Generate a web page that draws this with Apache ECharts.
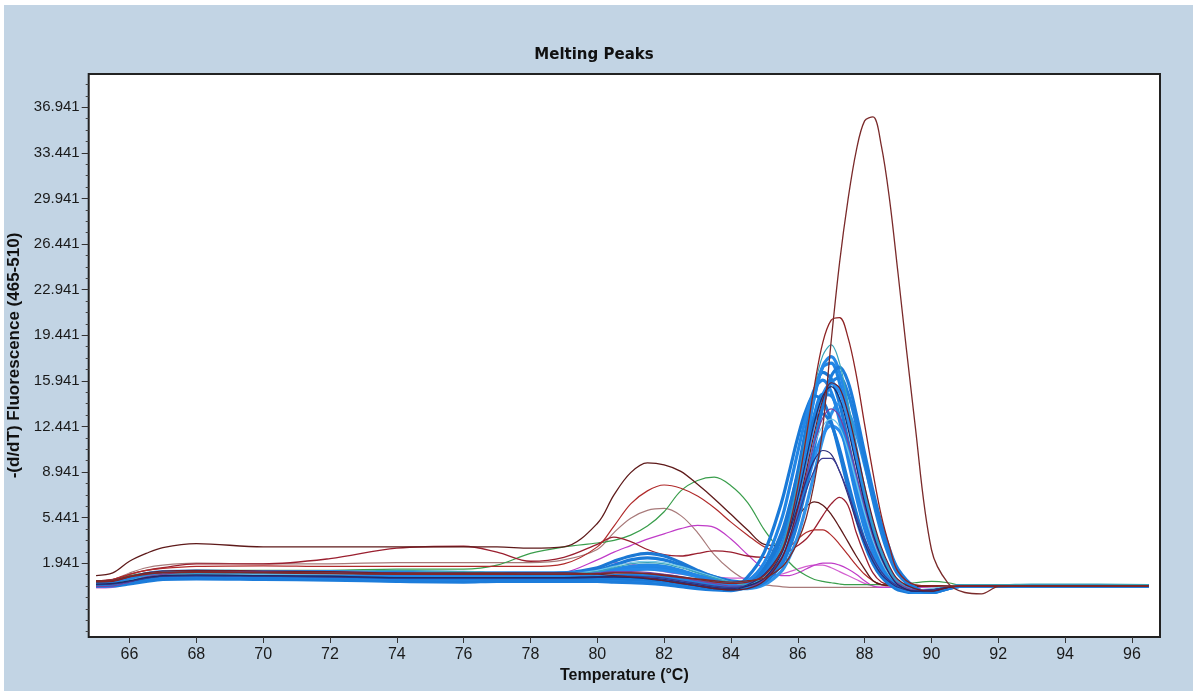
<!DOCTYPE html>
<html>
<head>
<meta charset="utf-8">
<title>Melting Peaks</title>
<script src="https://cdn.jsdelivr.net/npm/echarts@6/dist/echarts.min.js"></script>
<style>
  html, body { margin: 0; padding: 0; background: #ffffff; }
  #chart { position: absolute; left: 4px; top: 5px; width: 1189px; height: 686px; }
</style>
</head>
<body>
<div id="chart"></div>
<script>
// shared temperature grid (°C) for every curve
const temps = [
  65, 65.5, 66, 66.5, 67, 68, 70, 72, 74, 76, 77, 78, 79, 80, 80.5, 81, 81.5, 82, 82.5, 83, 83.5, 84,
  84.5, 85, 85.5, 85.75, 86, 86.25, 86.5, 86.75, 87, 87.25, 87.5, 87.75, 88, 88.25, 88.5, 88.75, 89, 89.5, 90, 90.5,
  91, 91.5, 92, 93, 94, 96.5
];

const xTicks = [66, 68, 70, 72, 74, 76, 78, 80, 82, 84, 86, 88, 90, 92, 94, 96];
const yTicks = [1.941, 5.441, 8.941, 12.441, 15.941, 19.441, 22.941, 26.441, 29.941, 33.441, 36.941];

// blue bundle (main product peak near 86.9 °C)
const blue1 = [0.3,0.35,0.6,0.9,1.0,1.05,1.0,0.95,0.85,0.85,0.8,0.8,0.8,0.85,0.9,0.9,0.9,0.85,0.7,0.5,0.3,0.15,
  0.3,1.0,3.1,5.2,8.0,11.4,14.8,17.0,17.3,15.8,13.0,9.9,6.9,4.4,2.5,1.2,0.4,-0.2,-0.2,0.1,
  0.2,0.2,0.2,0.2,0.2,0.2];
const blue2 = [0.4,0.45,0.7,1.0,1.15,1.2,1.15,1.1,1.0,1.0,1.0,1.0,1.1,1.4,1.8,2.2,2.35,2.2,1.8,1.3,0.9,0.5,
  0.4,1.3,3.8,6.1,9.0,12.3,15.2,16.6,16.1,14.2,11.4,8.4,5.6,3.4,1.8,0.8,0.2,-0.3,-0.2,0.1,
  0.2,0.2,0.2,0.2,0.2,0.2];
const blue3 = [0.2,0.25,0.45,0.7,0.85,0.9,0.85,0.8,0.6,0.65,0.7,0.7,0.7,0.7,0.7,0.65,0.6,0.5,0.35,0.2,0.05,-0.05,
  0.2,0.8,2.6,4.4,6.9,9.8,12.8,14.9,15.8,15.1,12.9,10.1,7.3,4.8,2.8,1.4,0.5,-0.2,-0.3,0.1,
  0.2,0.2,0.2,0.2,0.2,0.2];
const blue4 = [0.35,0.4,0.65,0.95,1.1,1.15,1.1,1.05,0.95,0.9,0.9,0.95,1.0,1.2,1.4,1.6,1.65,1.55,1.3,1.0,0.7,0.4,
  0.3,1.1,3.2,5.2,7.8,10.8,13.4,14.9,14.8,13.2,10.6,7.9,5.3,3.3,1.8,0.8,0.2,-0.3,-0.2,0.1,
  0.2,0.2,0.2,0.2,0.2,0.2];
const blue5 = [0.25,0.3,0.55,0.85,0.95,1.0,0.95,0.9,0.75,0.8,0.75,0.75,0.75,0.8,0.85,0.85,0.8,0.7,0.5,0.3,0.1,0.0,
  0.0,0.3,1.3,2.4,4.0,6.3,8.9,11.5,13.4,14.2,13.6,11.9,9.5,7.0,4.7,2.8,1.4,0.1,-0.3,0.0,
  0.2,0.2,0.2,0.2,0.2,0.2];
const blue6 = [0.4,0.45,0.75,1.05,1.2,1.25,1.2,1.15,1.05,1.05,1.05,1.1,1.2,1.6,2.1,2.5,2.7,2.5,2.0,1.4,0.9,0.6,
  0.5,1.6,4.2,6.3,8.8,11.3,13.0,13.4,12.6,10.7,8.2,5.8,3.7,2.1,1.0,0.4,0.0,-0.3,-0.2,0.1,
  0.2,0.2,0.2,0.2,0.2,0.2];
const blue7 = [0.2,0.25,0.5,0.75,0.9,0.95,0.9,0.85,0.7,0.7,0.7,0.75,0.75,0.8,0.8,0.8,0.75,0.65,0.5,0.35,0.2,0.1,
  0.2,0.7,2.1,3.5,5.5,7.8,10.1,11.8,12.5,12.1,10.5,8.3,6.0,3.9,2.3,1.2,0.4,-0.2,-0.2,0.1,
  0.2,0.2,0.2,0.2,0.2,0.2];
const blue8 = [0.3,0.35,0.6,0.9,1.05,1.1,1.05,1.0,0.9,0.9,0.85,0.85,0.85,0.9,1.0,1.05,1.05,1.0,0.85,0.6,0.35,0.15,
  0.1,0.5,1.8,3.2,5.3,8.1,11.2,14.0,15.8,16.2,15.0,12.6,9.7,6.8,4.3,2.4,1.1,0.0,-0.3,0.0,
  0.2,0.2,0.2,0.2,0.2,0.2];
const blue9 = [0.35,0.4,0.65,0.95,1.1,1.1,1.05,1.0,0.9,0.9,0.9,0.9,0.95,1.1,1.3,1.45,1.5,1.4,1.2,0.9,0.6,0.35,
  0.3,0.9,2.9,5.0,7.9,11.3,14.7,17.1,17.8,16.6,13.9,10.7,7.5,4.8,2.7,1.3,0.4,-0.3,-0.2,0.1,
  0.2,0.2,0.2,0.2,0.2,0.2];
const blue10 = [0.25,0.3,0.5,0.8,0.95,1.0,0.95,0.9,0.8,0.75,0.75,0.75,0.75,0.75,0.75,0.7,0.65,0.55,0.4,0.25,0.1,0.0,
  0.9,2.8,6.5,9.0,11.6,13.7,14.8,14.4,12.8,10.4,7.8,5.4,3.4,1.9,0.9,0.3,-0.1,-0.3,-0.2,0.1,
  0.2,0.2,0.2,0.2,0.2,0.2];
const blue11 = [0.5,0.55,0.85,1.15,1.3,1.35,1.3,1.3,1.25,1.25,1.2,1.2,1.2,1.3,1.5,1.7,1.8,1.7,1.4,1.0,0.6,0.3,
  0.6,2.0,5.2,7.7,10.5,13.2,15.3,16.0,15.1,12.9,10.0,7.1,4.6,2.7,1.4,0.6,0.1,-0.3,-0.2,0.1,
  0.2,0.2,0.2,0.2,0.2,0.2];
const blue12 = [0.2,0.2,0.35,0.55,0.7,0.75,0.7,0.65,0.55,0.5,0.55,0.55,0.55,0.55,0.5,0.45,0.4,0.3,0.15,0.0,-0.1,-0.15,
  0.1,0.5,1.8,3.1,5.1,7.8,10.9,14.0,16.3,17.0,15.9,13.4,10.4,7.5,5.0,3.0,1.5,0.1,-0.3,0.0,
  0.2,0.2,0.2,0.2,0.2,0.2];
const teal1 = [0.3,0.35,0.6,0.9,1.1,1.2,1.2,1.3,1.4,1.3,1.2,1.1,1.1,1.3,1.6,1.9,2.0,1.9,1.6,1.2,0.8,0.5,
  0.3,1.0,3.0,5.2,8.2,11.8,15.4,17.9,18.7,17.3,14.3,10.9,7.6,4.9,2.8,1.4,0.5,-0.1,-0.1,0.2,
  0.3,0.3,0.3,0.35,0.35,0.3];
const cyan1 = [0.3,0.35,0.6,0.9,1.0,1.1,1.1,1.1,1.2,1.3,1.2,1.1,1.1,1.4,1.7,2.0,2.1,2.0,1.7,1.3,0.9,0.5,
  0.3,0.9,2.5,4.1,6.3,8.9,11.1,12.5,13.0,12.4,10.6,8.2,5.8,3.7,2.1,1.0,0.4,-0.1,0.0,0.2,
  0.2,0.2,0.2,0.2,0.2,0.2];
const purple1 = [0.15,0.2,0.5,0.9,1.1,1.3,1.3,1.3,1.2,1.15,1.1,1.1,1.1,1.2,1.3,1.3,1.25,1.1,0.9,0.6,0.4,0.2,
  0.2,0.7,2.3,3.9,6.0,8.6,11.2,13.1,13.8,13.2,11.3,8.8,6.3,4.0,2.3,1.1,0.4,-0.1,-0.1,0.1,
  0.2,0.2,0.2,0.2,0.2,0.2];
const navy1 = [0.3,0.35,0.55,0.8,0.95,1.0,0.95,0.9,0.8,0.8,0.8,0.8,0.8,0.85,0.9,0.85,0.8,0.7,0.5,0.3,0.1,0.0,
  0.3,1.1,2.8,4.4,6.3,8.3,9.9,10.6,10.3,9.0,7.2,5.2,3.5,2.1,1.1,0.5,0.1,-0.2,-0.1,0.1,
  0.2,0.2,0.2,0.2,0.2,0.2];
const navy2 = [0.3,0.35,0.55,0.8,0.95,1.0,0.95,0.9,0.85,0.85,0.85,0.85,0.85,0.9,0.95,0.95,0.9,0.8,0.6,0.4,0.2,0.1,
  0.2,0.8,2.3,3.7,5.5,7.5,9.1,10.0,10.0,9.0,7.4,5.5,3.8,2.4,1.3,0.6,0.2,-0.2,-0.1,0.1,
  0.2,0.2,0.2,0.2,0.2,0.2];
const navy3 = [0.35,0.4,0.6,0.85,1.0,1.05,1.0,0.95,0.85,0.85,0.85,0.85,0.85,0.9,0.9,0.85,0.75,0.6,0.4,0.2,0.0,-0.1,
  0.2,0.8,2.6,4.5,7.0,9.9,12.8,14.8,15.5,14.6,12.3,9.4,6.6,4.2,2.4,1.1,0.3,-0.2,-0.2,0.1,
  0.2,0.2,0.2,0.2,0.2,0.2];
const maroonInner = [0.5,0.55,0.9,1.2,1.35,1.4,1.35,1.3,1.2,1.2,1.2,1.2,1.2,1.1,1.0,0.9,0.8,0.6,0.4,0.2,0.0,-0.1,
  0.0,0.6,2.2,3.9,6.2,9.0,12.0,14.5,15.8,15.4,13.5,10.8,7.9,5.3,3.2,1.7,0.7,0.0,-0.2,0.1,
  0.2,0.2,0.2,0.2,0.2,0.2];

// samples with side products
const rosyPeak = [0.6,0.7,1.2,1.6,1.8,1.95,1.9,1.9,2.0,2.0,2.0,2.0,2.2,3.0,4.3,5.4,6.0,6.15,5.6,4.3,2.6,1.4,
  0.6,0.3,0.15,0.1,0.1,0.1,0.1,0.1,0.1,0.1,0.1,0.1,0.1,0.1,0.1,0.1,0.1,0.1,0.15,0.2,
  0.2,0.2,0.2,0.2,0.2,0.2];
const pinkLow = [0.05,0.1,0.4,0.75,0.9,0.95,0.85,0.85,0.9,0.9,0.9,0.9,1.0,1.5,2.0,1.9,1.6,1.3,1.1,1.0,0.9,0.8,
  0.8,0.9,1.1,1.3,1.5,1.7,1.8,1.8,1.6,1.3,1.0,0.7,0.4,0.2,0.1,0.1,0.1,0.1,0.15,0.2,
  0.2,0.2,0.2,0.2,0.2,0.2];
const magentaPeak = [0.1,0.15,0.5,0.8,1.0,1.0,0.9,1.0,1.1,1.0,1.0,1.0,1.2,2.2,2.8,3.3,3.8,4.2,4.6,4.85,4.7,3.8,
  2.6,1.5,1.0,1.0,1.2,1.5,1.8,1.95,1.95,1.8,1.5,1.1,0.6,0.2,0.1,0.1,0.1,0.1,0.15,0.2,
  0.2,0.2,0.2,0.2,0.2,0.2];
const greenPeak = [0.5,0.6,1.0,1.2,1.3,1.4,1.4,1.4,1.5,1.5,1.8,2.7,3.2,3.5,3.7,4.1,4.8,5.9,7.5,8.3,8.55,7.9,
  6.6,4.5,2.8,2.0,1.4,1.0,0.7,0.55,0.45,0.35,0.3,0.3,0.3,0.3,0.3,0.3,0.3,0.45,0.55,0.45,
  0.2,0.2,0.2,0.2,0.2,0.2];
const darkRedPeak = [0.6,0.7,1.1,1.4,1.6,1.9,1.9,2.3,3.1,3.25,2.8,2.1,2.4,3.4,3.95,3.6,3.0,2.6,2.5,2.7,2.9,2.8,
  2.5,2.4,2.6,2.9,3.3,3.8,4.6,5.6,6.5,7.0,6.4,4.3,2.6,1.2,0.5,0.3,0.25,0.2,0.2,0.2,
  0.2,0.2,0.2,0.2,0.2,0.2];
const redPeak = [0.6,0.7,1.1,1.4,1.55,1.7,1.75,1.7,1.7,1.7,1.7,1.7,1.9,3.2,4.8,6.5,7.5,7.95,7.7,7.1,6.2,5.1,
  4.1,3.2,2.8,3.2,3.8,4.3,4.5,4.5,4.1,3.4,2.6,1.8,1.1,0.6,0.3,0.2,0.2,0.2,0.2,0.2,
  0.2,0.2,0.2,0.2,0.2,0.2];
const brownPeak = [1.0,1.2,2.1,2.7,3.15,3.45,3.2,3.2,3.2,3.2,3.2,3.1,3.2,5.0,7.2,8.9,9.65,9.5,9.0,8.0,6.9,5.7,
  4.5,3.4,3.3,4.3,5.5,6.3,6.65,6.4,5.7,4.7,3.6,2.5,1.5,0.6,0.3,0.25,0.25,0.2,0.2,0.2,
  0.2,0.2,0.2,0.2,0.2,0.2];
const secondPeak = [0.55,0.6,0.9,1.1,1.2,1.25,1.2,1.15,1.1,1.1,1.1,1.1,1.1,1.15,1.2,1.2,1.15,1.0,0.85,0.7,0.5,0.4,
  0.5,1.0,2.8,4.8,7.8,11.6,15.6,18.9,20.6,20.8,19.3,16.4,12.6,8.9,5.6,3.2,1.3,0.3,0.2,0.2,
  0.2,0.2,0.2,0.2,0.2,0.2];
const tallPeak = [0.6,0.65,0.95,1.15,1.25,1.3,1.25,1.2,1.15,1.15,1.15,1.1,1.1,1.15,1.2,1.2,1.15,1.05,0.9,0.75,0.6,0.5,
  0.6,0.8,1.6,2.4,3.6,5.4,8.2,12.4,19.0,25.0,29.8,33.6,35.9,36.2,34.0,29.8,24.2,12.8,3.0,0.4,
  -0.3,-0.4,0.15,0.2,0.2,0.2];

const BLUE_W = 3.2;

// drawing order: side-product curves first, blue bundle over them, big peaks on top
const curves = [
  { values: rosyPeak, color: '#a87a7a', width: 1.2 },
  { values: pinkLow, color: '#d35fd0', width: 1.2 },
  { values: magentaPeak, color: '#c03cc8', width: 1.2 },
  { values: greenPeak, color: '#3a9e4c', width: 1.2 },
  { values: darkRedPeak, color: '#9a1f2f', width: 1.3 },
  { values: redPeak, color: '#b02a2a', width: 1.2 },
  { values: brownPeak, color: '#5e1a1a', width: 1.3 },
  { values: blue1, color: '#1f84e3', width: BLUE_W },
  { values: blue2, color: '#1a7ad8', width: BLUE_W },
  { values: blue3, color: '#2a8ef0', width: BLUE_W },
  { values: blue4, color: '#1f84e3', width: BLUE_W },
  { values: blue5, color: '#3293e8', width: BLUE_W },
  { values: blue6, color: '#1b78d4', width: BLUE_W },
  { values: blue7, color: '#2a8ef0', width: BLUE_W },
  { values: blue8, color: '#1f80de', width: BLUE_W },
  { values: blue9, color: '#2589e8', width: BLUE_W },
  { values: blue10, color: '#1a7ad8', width: BLUE_W },
  { values: blue11, color: '#2286e6', width: BLUE_W },
  { values: blue12, color: '#1c7cdb', width: BLUE_W },
  { values: cyan1, color: '#6ec6e6', width: 1.2 },
  { values: teal1, color: '#3aa4b8', width: 1.2 },
  { values: purple1, color: '#7b3f9e', width: 1.2 },
  { values: navy1, color: '#2c2c78', width: 1.2 },
  { values: navy2, color: '#3a3a90', width: 1.2 },
  { values: navy3, color: '#1f2a66', width: 1.2 },
  { values: maroonInner, color: '#6b1d2b', width: 1.2 },
  { values: secondPeak, color: '#8e2424', width: 1.3 },
  { values: tallPeak, color: '#7a2a2a', width: 1.3 }
];

function minorTicksFrom(majors, parts, lo, hi) {
  const step = (majors[1] - majors[0]) / parts;
  const out = [];
  for (let v = majors[0]; v > lo; v -= step) out.push(+v.toFixed(3));
  for (let v = majors[0] + step; v < hi; v += step) out.push(+v.toFixed(3));
  return out.filter((v) => !majors.some((m) => Math.abs(m - v) < 1e-6));
}

const X_MIN = 64.78;
const X_MAX = 96.84;
const Y_MIN = -3.716;
const Y_MAX = 39.497;

const labelFont = '"Liberation Sans", Arial, sans-serif';

const chart = echarts.init(document.getElementById('chart'), null, { renderer: 'canvas' });

chart.setOption({
  animation: false,
  backgroundColor: '#c2d4e4',
  title: {
    text: 'Melting Peaks',
    left: 585,
    top: 38,
    textAlign: 'center',
    textStyle: { fontFamily: 'DejaVu Sans', fontWeight: 'bold', fontSize: 15, color: '#111' }
  },
  grid: {
    left: 84.7,
    right: 33,
    top: 69,
    bottom: 54,
    outerBoundsMode: 'none',
    containLabel: false,
    show: true,
    backgroundColor: '#ffffff',
    borderColor: '#222222',
    borderWidth: 2
  },
  xAxis: {
    type: 'value',
    min: X_MIN,
    max: X_MAX,
    name: 'Temperature (°C)',
    nameLocation: 'middle',
    nameGap: 31,
    nameTextStyle: { fontFamily: labelFont, fontWeight: 'bold', fontSize: 16, color: '#111' },
    axisLine: { show: false, onZero: false },
    splitLine: { show: false },
    axisTick: { show: true, customValues: xTicks, length: 6, lineStyle: { color: '#333', width: 1 } },
    axisLabel: { customValues: xTicks, margin: 10, fontFamily: labelFont, fontSize: 16, color: '#1a1a1a' }
  },
  yAxis: [
    {
      type: 'value',
      min: Y_MIN,
      max: Y_MAX,
      name: '-(d/dT) Fluorescence (465-510)',
      nameLocation: 'middle',
      nameGap: 46,
      nameTextStyle: { fontFamily: labelFont, fontWeight: 'bold', fontSize: 17, color: '#111' },
      axisLine: { show: false, onZero: false },
      splitLine: { show: false },
      axisTick: { show: true, customValues: yTicks, length: 7, lineStyle: { color: '#333', width: 1 } },
      axisLabel: {
        customValues: yTicks,
        margin: 9,
        fontFamily: labelFont,
        fontSize: 15,
        color: '#1a1a1a',
        formatter: (v) => v.toFixed(3)
      }
    },
    {
      type: 'value',
      min: Y_MIN,
      max: Y_MAX,
      position: 'left',
      axisLine: { show: false, onZero: false },
      splitLine: { show: false },
      axisLabel: { show: false },
      axisTick: {
        show: true,
        customValues: minorTicksFrom(yTicks, 4, Y_MIN, Y_MAX),
        length: 3,
        lineStyle: { color: '#444', width: 1 }
      }
    }
  ],
  series: curves.map((c) => ({
    type: 'line',
    yAxisIndex: 0,
    silent: true,
    showSymbol: false,
    symbol: 'none',
    smooth: 0.35,
    lineStyle: { color: c.color, width: c.width },
    data: temps.map((t, i) => [t, c.values[i]])
  }))
});
</script>
</body>
</html>
